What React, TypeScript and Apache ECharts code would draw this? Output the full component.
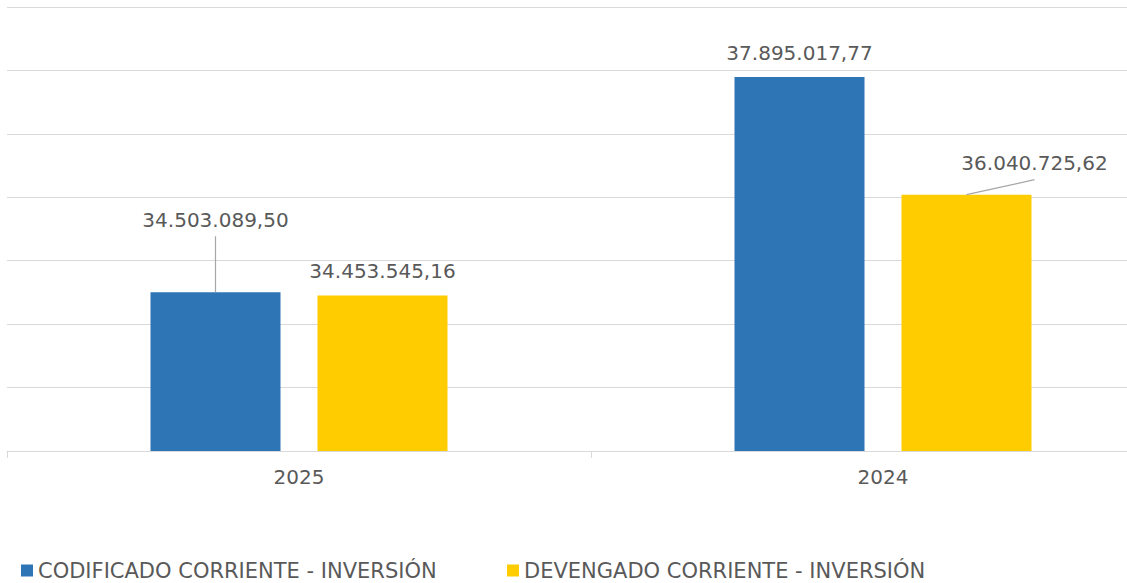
import React, { useEffect, useRef } from "react";
import * as echarts from "echarts";

// ---- data ----
const categories = ["2025", "2024"];
const seriesNames = ["CODIFICADO CORRIENTE - INVERSIÓN", "DEVENGADO CORRIENTE - INVERSIÓN"];
const codificado = [34503089.5, 37895017.77];
const devengado = [34453545.16, 36040725.62];
const yMin = 32000000;
const yMax = 39000000;
const yStep = 1000000;

// ---- style / layout config ----
const COLORS = ["#2E75B6", "#FFCC00"];
const FONT = "DejaVu Sans";
const TEXT_COLOR = "#595959";
const GRID_COLOR = "#D9D9D9";
const BAR_WIDTH = 130;
const BAR_GAP_PX = 37;
// label shifts (pixels) relative to default "top" position: [series][category]
const LABEL_SHIFT = [
  [[0, -48], [0, 0]],
  [[0, 0], [68, -8]],
];
// leader lines: series index, category index, end point offset from bar top centre
const LEADERS = [
  { s: 0, c: 0, dx: 0, dy: -56 },
  { s: 1, c: 1, dx: 68, dy: -15 },
];

function fmt(v: number): string {
  const [i, d] = v.toFixed(2).split(".");
  return i.replace(/\B(?=(\d{3})+(?!\d))/g, ".") + "," + d;
}

export default function App() {
  const ref = useRef<HTMLDivElement>(null);
  useEffect(() => {
    if (!ref.current) return;
    const chart = echarts.init(ref.current, undefined, { renderer: "svg" });
    const values = [codificado, devengado];
    const barSeries = values.map((arr, si) => ({
      name: seriesNames[si],
      type: "bar",
      barWidth: BAR_WIDTH,
      barGap: (BAR_GAP_PX / BAR_WIDTH) * 100 + "%",
      itemStyle: { color: COLORS[si] },
      data: arr.map((v, ci) => ({
        value: v,
        label: { offset: LABEL_SHIFT[si][ci] },
      })),
      label: {
        show: true,
        position: "top",
        distance: 14,
        formatter: (p: any) => fmt(p.value),
        fontFamily: FONT,
        fontSize: 20,
        color: TEXT_COLOR,
      },
      z: 2,
    }));
    const leaderData = LEADERS.map((l) => [l.c, values[l.s][l.c], l.s, l.dx, l.dy]);
    const half = (BAR_WIDTH + BAR_GAP_PX) / 2;
    const legendBase = {
      top: 555,
      icon: "rect",
      itemWidth: 12,
      itemHeight: 12,
      itemGap: 0,
      textStyle: { fontFamily: FONT, fontSize: 21, color: TEXT_COLOR },
    };
    const option: any = {
      animation: false,
      backgroundColor: "#ffffff",
      grid: {
        left: 7,
        top: 7,
        bottom: 132,
        width: 1168,
        containLabel: false,
        outerBoundsMode: "none",
      },
      xAxis: {
        type: "category",
        data: categories,
        boundaryGap: true,
        axisLine: { show: true, lineStyle: { color: GRID_COLOR, width: 1 } },
        axisTick: { show: true, length: 7, lineStyle: { color: GRID_COLOR } },
        axisLabel: { fontFamily: FONT, fontSize: 20, color: TEXT_COLOR, margin: 16 },
      },
      yAxis: {
        type: "value",
        min: yMin,
        max: yMax,
        interval: yStep,
        axisLabel: { show: false },
        axisLine: { show: false },
        axisTick: { show: false },
        splitLine: { show: true, lineStyle: { color: GRID_COLOR, width: 1 } },
      },
      legend: [
        { ...legendBase, data: [seriesNames[0]], left: 16 },
        { ...legendBase, data: [seriesNames[1]], left: 502 },
      ],
      series: [
        ...barSeries,
        {
          type: "custom",
          coordinateSystem: "cartesian2d",
          silent: true,
          z: 3,
          data: leaderData,
          encode: { x: 0, y: 1 },
          renderItem: (params: any, api: any) => {
            const p = api.coord([api.value(0), api.value(1)]);
            const sign = api.value(2) === 0 ? -1 : 1;
            const x0 = p[0] + sign * half;
            const y0 = p[1];
            return {
              type: "line",
              shape: { x1: x0, y1: y0, x2: x0 + api.value(3), y2: y0 + api.value(4) },
              style: { stroke: "#A6A6A6", lineWidth: 1.2 },
            };
          },
        },
      ],
    };
    chart.setOption(option);
    return () => chart.dispose();
  }, []);
  return (
    <div
      ref={ref}
      style={{ position: "absolute", left: 0, top: 0, width: 1127, height: 583, background: "#fff" }}
    />
  );
}
